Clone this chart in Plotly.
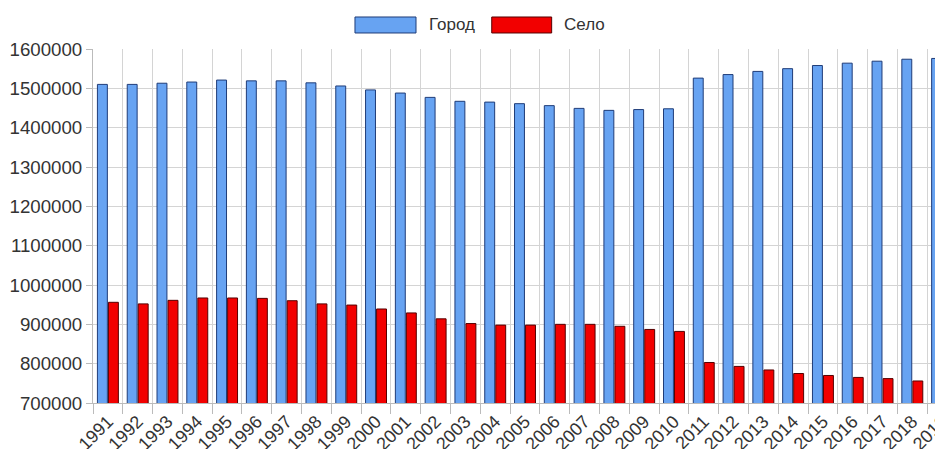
import plotly.graph_objects as go

years = [str(y) for y in range(1991, 2020)]

# население, город
city = [1510000, 1510000, 1513000, 1516000, 1521000, 1519000, 1519000, 1514000,
        1506000, 1496000, 1488000, 1477000, 1467000, 1465000, 1461000, 1456000,
        1449000, 1444000, 1446000, 1448000, 1526000, 1535000, 1543000, 1550000,
        1558000, 1564000, 1569000, 1574000, 1576000]

# население, село
village = [956000, 952000, 961000, 967000, 967000, 966000, 960000, 952000,
           949000, 939000, 929000, 914000, 902000, 898000, 898000, 900000,
           900000, 895000, 887000, 882000, 803000, 793000, 784000, 775000,
           770000, 765000, 762000, 756000, 751000]

y_ticks = list(range(700000, 1600001, 100000))

BLUE = "#67A3F2"
BLUE_EDGE = "#1F3C78"
RED = "#F20000"
RED_EDGE = "#560000"
FONT = "Liberation Sans, Arial, sans-serif"

fig = go.Figure()
fig.add_trace(go.Bar(
    x=years, y=city, name="Город",
    marker=dict(color=BLUE, line=dict(color=BLUE_EDGE, width=1)),
))
fig.add_trace(go.Bar(
    x=years, y=village, name="Село",
    marker=dict(color=RED, line=dict(color=RED_EDGE, width=1)),
))

# hand-drawn legend (wide swatches like the original)
legend_items = [
    ("Город", BLUE, BLUE_EDGE, 0.3082, 0.38, 0.3929),
    ("Село", RED, RED_EDGE, 0.4691, 0.5396, 0.5514),
]
shapes = []
annotations = []
for label, fill, edge, x0, x1, tx in legend_items:
    shapes.append(dict(
        type="rect", xref="paper", yref="paper",
        x0=x0, x1=x1, y0=1.0452, y1=1.0904,
        fillcolor=fill, line=dict(color=edge, width=1),
    ))
    annotations.append(dict(
        text=label, xref="paper", yref="paper", x=tx, y=1.0678,
        xanchor="left", yanchor="middle", showarrow=False,
        font=dict(family=FONT, size=17, color="#333333"),
    ))

# the page body adds an 8px margin, so the figure is sized to fit inside it
fig.update_layout(
    width=935,
    height=441,
    margin=dict(l=85, r=0, t=41, b=46),
    plot_bgcolor="white",
    paper_bgcolor="white",
    showlegend=False,
    barmode="group",
    bargap=0.26,
    bargroupgap=0.1,
    shapes=shapes,
    annotations=annotations,
    font=dict(family=FONT, color="#333333"),
    xaxis=dict(
        type="category",
        range=[-0.5, 28.03],
        tickson="boundaries",
        ticks="outside",
        ticklen=10,
        tickcolor="#BBBBBB",
        tickangle=-45,
        tickfont=dict(family=FONT, size=18, color="#333333"),
        showgrid=True,
        gridcolor="#D4D4D4",
        showline=True,
        linecolor="#BBBBBB",
        automargin=False,
    ),
    yaxis=dict(
        range=[700000, 1600000],
        tickvals=y_ticks,
        tickformat="d",
        ticks="outside",
        ticklen=6,
        tickcolor="#BBBBBB",
        tickfont=dict(family=FONT, size=18.7, color="#333333"),
        showgrid=True,
        gridcolor="#D4D4D4",
        showline=True,
        linecolor="#BBBBBB",
        zeroline=False,
        automargin=False,
    ),
)

fig.write_html("out.html")
